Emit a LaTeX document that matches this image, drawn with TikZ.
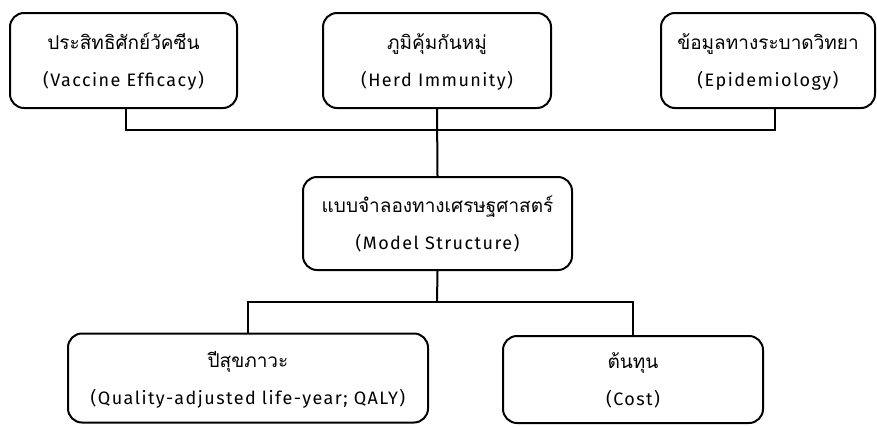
\documentclass[tikz,border=0pt]{standalone}
\usepackage{fontspec}
\setmainfont[Script=Thai]{Loma}
\newfontfamily\latinfont[LetterSpace=8]{Fira Sans}
\newcommand{\twoline}[2]{\lineskiplimit=-20pt\relax{\fontsize{19}{37}\selectfont\rule{0pt}{20pt}#1}\\{\latinfont\fontsize{18}{37}\selectfont #2\rule[-5pt]{0pt}{5pt}}}
\begin{document}
\begin{tikzpicture}[x=1pt,y=-1pt,
  box/.style={draw,line width=2pt,rounded corners=14pt,align=center,inner sep=0pt,
    font=\fontsize{16}{37}\selectfont},
  conn/.style={line width=2pt}]
\useasboundingbox[fill=white] (0,0) rectangle (877,426);
\node[box,minimum width=227pt,minimum height=95pt] (b1) at (123.5,60.5) {\twoline{ประสิทธิศักย์วัคซีน}{(Vaccine Efficacy)}};
\node[box,minimum width=228pt,minimum height=95pt] (b2) at (437,60.5) {\twoline{ภูมิคุ้มกันหมู่}{(Herd Immunity)}};
\node[box,minimum width=214pt,minimum height=95pt] (b3) at (768,60.5) {\twoline{ข้อมูลทางระบาดวิทยา}{(Epidemiology)}};
\node[box,minimum width=269pt,minimum height=93pt] (m) at (437.5,223.5) {\twoline{แบบจำลองทางเศรษฐศาสตร์}{(Model Structure)}};
\node[box,minimum width=360pt,minimum height=89pt] (q) at (248,378) {\twoline{ปีสุขภาวะ}{(Quality-adjusted life-year; QALY)}};
\node[box,minimum width=260pt,minimum height=87pt] (c) at (633,379.5) {\twoline{ต้นทุน}{(Cost)}};
\coordinate (j1) at (437,130);
\coordinate (j2) at (437,302);
\draw[conn] ([xshift=2.5pt]b1.south) |- (j1);
\draw[conn] ([xshift=7pt]b3.south) |- (j1);
\draw[conn] (b2.south) -- (m.north);
\draw[conn] (m.south) -- (j2);
\draw[conn] (q.north) |- (j2);
\draw[conn] (c.north) |- (j2);
\end{tikzpicture}
\end{document}
